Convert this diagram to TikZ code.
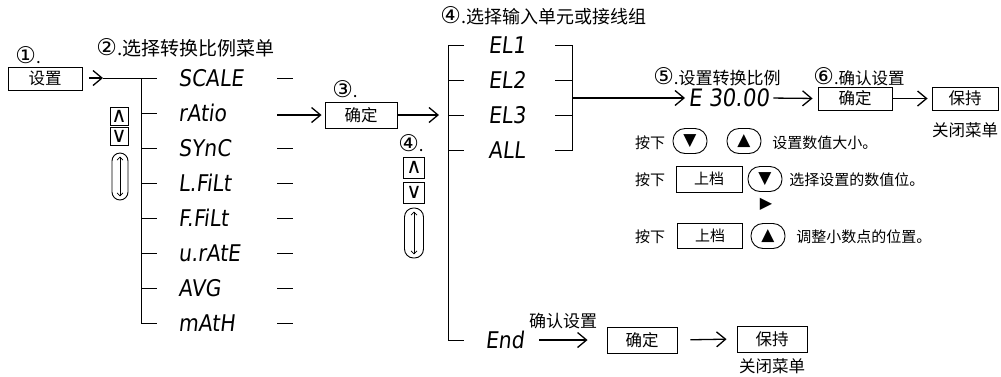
\documentclass[tikz,border=0pt]{standalone}
\usepackage{fontspec}
\setmainfont{Noto Sans CJK SC}
\newfontfamily\segf{DejaVu Sans}[FakeSlant=0.12,FakeStretch=0.88]
\newfontfamily\dv{DejaVu Sans}
\newcommand\cnum[1]{{\dv\fontsize{23}{23}\selectfont #1}}
\usetikzlibrary{arrows.meta}
\tikzset{
  btn/.style={draw, line width=0.9pt, minimum width=#1, minimum height=24pt, inner sep=0pt, font=\fontsize{16.5}{18}\selectfont},
  seg/.style={font=\segf\fontsize{23}{25}\selectfont, anchor=west, inner sep=0pt},
  lbl/.style={font=\fontsize{17}{19}\selectfont, inner sep=0pt},
  small/.style={font=\fontsize{15}{17}\selectfont, inner sep=0pt},
  arr/.style={line width=1.3pt, -{Straight Barb[length=9pt,width=15pt]}},
  keyb/.style={draw, rounded corners=12pt, minimum width=34pt, minimum height=25pt, inner sep=0pt, font=\dv\fontsize{17}{18}\selectfont},
  updn/.style={draw, minimum size=#1, inner sep=0pt, font=\dv\fontsize{21}{22}\selectfont},
  scroll/.style={draw, rounded corners=#1, inner sep=0pt},
  dbl/.style={line width=0.7pt, {Straight Barb[length=3pt,width=6pt]}-{Straight Barb[length=3pt,width=6pt]}},
}
\begin{document}
\begin{tikzpicture}[x=1pt,y=-1pt,line width=0.9pt]
\useasboundingbox (0,0) rectangle (1001,376);

% ---- step 1
\node[lbl, anchor=west] (n1) at (15,55) {\cnum{①}.};
\node[btn=74pt, minimum height=23pt] (setbox) at (45,78.5) {设置};
\coordinate (a0) at (89,78);
\coordinate (a1) at (103,78);
\coordinate (m0) at (157,78);
\coordinate (vtop) at (141,78);
\coordinate (vbot) at (141,323);
\draw[arr] (a0) -- (a1);
\draw (a1) -- (m0);
\draw (vtop) -- (vbot);

% ---- step 2 menu
\node[lbl, anchor=west, font=\fontsize{19}{21}\selectfont] (n2) at (96,48) {\cnum{②}.选择转换比例菜单};
\foreach \t [count=\i from 0] in {SCALE,rAtio,SYnC,L.FiLt,F.FiLt,u.rAtE,AVG,mAtH} {
  \node[seg] (s\i) at (178,78+35*\i) {\t};
}
\foreach \i in {1,...,7} { \draw (141,78+35*\i) -- (157,78+35*\i); }
\foreach \i in {0,2,3,4,5,6,7} { \draw (277,78+35*\i) -- (293,78+35*\i); }

\node[updn=18pt] (up1) at (119,116.5) {∧};
\node[updn=18pt] (dn1) at (119,136.5) {∨};
\node[scroll=8pt, minimum width=16pt, minimum height=47pt] (sc1) at (120,176.5) {};
\draw[dbl] ([yshift=-4pt]sc1.north) -- ([yshift=4pt]sc1.south);

% ---- step 3
\node[lbl] (n3) at (345,89) {\cnum{③}.};
\node[btn=72pt, minimum height=26pt] (okbox) at (361,115) {确定};
\coordinate (r1) at (277,115);
\draw[arr, shorten >=3pt] (r1) -- (okbox.west);
\coordinate (bl) at (448,115);
\draw[arr, shorten <=1pt, shorten >=9pt] (okbox.east) -- (bl);

% ---- step 4
\node[lbl, anchor=west, font=\fontsize{18}{20}\selectfont] (n4) at (440,16) {\cnum{④}.选择输入单元或接线组};
\draw (464,45) -- (448,45) -- (448,340) -- (464,340);
\foreach \y in {80,115,150} { \draw (448,\y) -- (464,\y); }
\foreach \t [count=\j from 0] in {EL1,EL2,EL3,ALL} {
  \node[seg] (e\j) at (488,45+35*\j) {\t};
}
\draw (555,45) -- (572,45) -- (572,150) -- (555,150);
\foreach \y in {80,115} { \draw (555,\y) -- (572,\y); }
\coordinate (br) at (572,98);

\node[lbl] (n4b) at (411,143) {\cnum{④}.};
\node[updn=21pt] (up2) at (414,167.5) {∧};
\node[updn=21pt] (dn2) at (414,192.5) {∨};
\node[scroll=9pt, minimum width=19pt, minimum height=50pt] (sc2) at (414,233) {};
\draw[dbl] ([yshift=-4pt]sc2.north) -- ([yshift=4pt]sc2.south);

% ---- step 5/6
\node[lbl] (n5) at (717,77) {\cnum{⑤}.设置转换比例};
\node[seg, font=\segf\fontsize{24}{26}\selectfont] (e30) at (688,98) {E 30.00};
\draw[arr, shorten >=3pt] (br) -- (e30.west);
\node[lbl, font=\fontsize{16.5}{18}\selectfont] (n6) at (859,77) {\cnum{⑥}.确认设置};
\node[btn=74pt, minimum height=23pt] (ok2) at (855,98.5) {确定};
\node[btn=66pt, minimum height=23pt] (hold1) at (965,98.5) {保持};
\draw[arr, shorten <=4pt, shorten >=5pt] (e30.east) -- (ok2.west);
\draw[arr, shorten <=1pt, shorten >=4pt] (ok2.east) -- (hold1.west);
\node[lbl, font=\fontsize{16.5}{18}\selectfont] (c1) at (965,130) {关闭菜单};

% ---- key hints
\node[small] (p1) at (650,143) {按下};
\node[keyb] (k1) at (690,141) {▼};
\node[keyb] (k2) at (744,141) {▲};
\node[small, anchor=west] (t1) at (772,143) {设置数值大小。};

\node[small] (p2) at (650,180) {按下};
\node[btn=66pt, minimum height=26pt, font=\fontsize{15}{17}\selectfont] (sh1) at (709,179) {上档};
\node[keyb] (k3) at (765,179) {▼};
\node[small, anchor=west] (t2) at (789,180) {选择设置的数值位。};

\node[inner sep=0pt, font=\dv\fontsize{16}{17}\selectfont] (tri) at (766,204) {▶};

\node[small] (p3) at (650,237) {按下};
\node[btn=65pt, minimum height=25pt, font=\fontsize{15}{17}\selectfont] (sh2) at (710,236) {上档};
\node[keyb] (k4) at (768,236) {▲};
\node[small, anchor=west] (t3) at (796,237) {调整小数点的位置。};

% ---- End row
\node[seg] (end) at (485,340) {End};
\node[lbl] (cf) at (563,321) {确认设置};
\node[btn=70pt, minimum height=26pt] (ok3) at (642,340) {确定};
\node[btn=70pt, minimum height=26pt] (hold2) at (772,339) {保持};
\draw[arr, shorten <=15pt, shorten >=19pt] (end.east) -- (ok3.west);
\draw[arr, shorten <=13pt, shorten >=10pt] (ok3.east) -- (hold2.west);
\node[lbl, font=\fontsize{16.5}{18}\selectfont] (c2) at (772,366) {关闭菜单};
\end{tikzpicture}
\end{document}
